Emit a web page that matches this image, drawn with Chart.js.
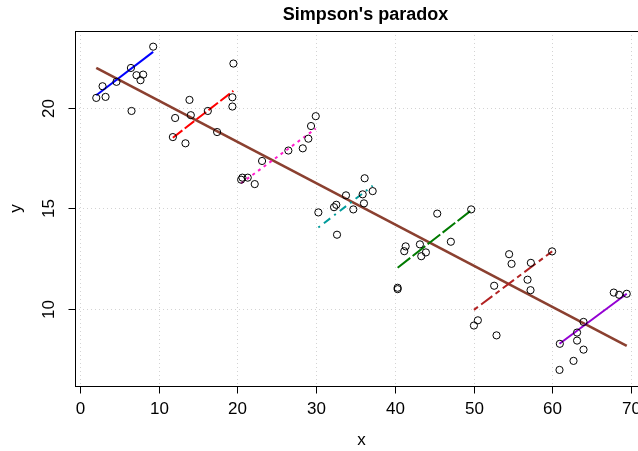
<!DOCTYPE html>
<html>
<head>
<meta charset="utf-8">
<script src="https://cdn.jsdelivr.net/npm/chart.js@4.4.1/dist/chart.umd.min.js"></script>
<style>
  html, body { margin: 0; padding: 0; background: #ffffff; overflow: hidden; }
  #wrap { width: 638px; height: 451px; overflow: hidden; position: relative; }
  canvas { display: block; }
</style>
</head>
<body>
<div id="wrap"><canvas id="c" width="680" height="451"></canvas></div>
<script>
// ---- data ----
const chartTitle = "Simpson's paradox";
const xLabel = "x";
const yLabel = "y";
const xTicks = [0, 10, 20, 30, 40, 50, 60, 70];
const yTicks = [10, 15, 20];

const blueX = [2.06, 2.86, 3.24, 4.63, 6.46, 6.54, 7.17, 7.68, 8.02, 9.29];
const blueY = [20.50, 21.08, 20.55, 21.30, 21.99, 19.85, 21.63, 21.38, 21.66, 23.05];
const redX = [11.79, 12.08, 13.39, 13.90, 14.07, 16.23, 17.41, 19.35, 19.35, 19.48];
const redY = [18.55, 19.50, 18.24, 20.40, 19.64, 19.85, 18.80, 20.53, 20.07, 22.21];
const magentaX = [20.46, 20.62, 21.30, 22.19, 23.12, 26.46, 28.29, 29.00, 29.34, 29.94];
const magentaY = [16.43, 16.53, 16.53, 16.21, 17.36, 17.88, 17.99, 18.47, 19.10, 19.59];
const tealX = [30.27, 32.26, 32.55, 32.64, 33.78, 34.71, 35.90, 36.06, 36.15, 37.17];
const tealY = [14.80, 15.06, 15.18, 13.69, 15.65, 14.95, 15.70, 15.25, 16.50, 15.86];
const greenX = [40.34, 40.34, 41.18, 41.36, 43.17, 43.34, 43.93, 45.37, 47.10, 49.68];
const greenY = [11.05, 10.98, 12.87, 13.11, 13.21, 12.62, 12.81, 14.74, 13.34, 14.95];
const brickX = [50.03, 50.53, 52.60, 52.90, 54.50, 54.81, 56.84, 57.22, 57.26, 59.96];
const brickY = [9.17, 9.43, 11.15, 8.68, 12.72, 12.24, 11.45, 10.93, 12.29, 12.86];
const purpleX = [60.90, 60.94, 62.68, 63.13, 63.13, 63.95, 63.95, 67.79, 68.47, 69.44];
const purpleY = [6.96, 8.26, 7.41, 8.82, 8.42, 9.35, 7.97, 10.81, 10.70, 10.75];

// fitted line end points
const overallLineX = [2.06, 69.44];
const overallLineY = [21.99, 8.16];
const blueLineX = [2.06, 9.29];      const blueLineY = [20.63, 22.79];
const redLineX = [11.79, 19.48];     const redLineY = [18.52, 20.85];
const magentaLineX = [20.46, 29.94]; const magentaLineY = [16.25, 18.97];
const tealLineX = [30.27, 37.17];    const tealLineY = [14.05, 16.13];
const greenLineX = [40.34, 49.68];   const greenLineY = [12.05, 14.90];
const brickLineX = [50.03, 59.96];   const brickLineY = [9.95, 12.86];
const purpleLineX = [60.90, 69.44];  const purpleLineY = [8.26, 10.75];

// ---- build datasets ----
const zip = (xs, ys) => xs.map((x, i) => ({ x: x, y: ys[i] }));
const groups = [
  { px: blueX, py: blueY, lx: blueLineX, ly: blueLineY, color: '#0000ff', dash: [] },
  { px: redX, py: redY, lx: redLineX, ly: redLineY, color: '#ff0000', dash: [12, 3] },
  { px: magentaX, py: magentaY, lx: magentaLineX, ly: magentaLineY, color: '#ff1ccc', dash: [3, 4] },
  { px: tealX, py: tealY, lx: tealLineX, ly: tealLineY, color: '#009b9b', dash: [2, 5, 8, 5] },
  { px: greenX, py: greenY, lx: greenLineX, ly: greenLineY, color: '#007a00', dash: [16, 3] },
  { px: brickX, py: brickY, lx: brickLineX, ly: brickLineY, color: '#b22222', dash: [5, 4, 14, 4] },
  { px: purpleX, py: purpleY, lx: purpleLineX, ly: purpleLineY, color: '#9400d3', dash: [] }
];

const datasets = [];
groups.forEach(g => {
  datasets.push({
    type: 'scatter', data: zip(g.px, g.py), showLine: false,
    pointStyle: 'circle', pointRadius: 3.6, pointBorderWidth: 1,
    pointBorderColor: '#000000', pointBackgroundColor: 'rgba(0,0,0,0)',
    order: 0
  });
  datasets.push({
    type: 'line', data: zip(g.lx, g.ly), showLine: true, pointRadius: 0,
    borderColor: g.color, borderWidth: 2, borderDash: g.dash, fill: false,
    borderCapStyle: 'butt', order: 1
  });
});
datasets.push({
  type: 'line', data: zip(overallLineX, overallLineY), showLine: true, pointRadius: 0,
  borderColor: '#8b4030', borderWidth: 2.6, fill: false, order: 2
});

const FONT = '"Liberation Sans", Arial, Helvetica, sans-serif';

const rAxes = {
  id: 'rAxes',
  beforeDatasetsDraw(chart) {
    const { ctx, chartArea: a, scales: { x, y } } = chart;
    ctx.save();
    ctx.strokeStyle = '#d3d3d3';
    ctx.lineWidth = 1;
    ctx.setLineDash([1, 3]);
    xTicks.forEach(t => {
      const px = Math.round(x.getPixelForValue(t)) + 0.5;
      ctx.beginPath(); ctx.moveTo(px, a.top); ctx.lineTo(px, a.bottom); ctx.stroke();
    });
    yTicks.forEach(t => {
      const py = Math.round(y.getPixelForValue(t)) + 0.5;
      ctx.beginPath(); ctx.moveTo(a.left, py); ctx.lineTo(a.right, py); ctx.stroke();
    });
    ctx.restore();
  },
  afterDraw(chart) {
    const { ctx, chartArea: a, scales: { x, y } } = chart;
    ctx.save();
    ctx.setLineDash([]);
    ctx.strokeStyle = '#000000';
    ctx.lineWidth = 1;
    // box
    ctx.strokeRect(Math.round(a.left) + 0.5, Math.round(a.top) + 0.5,
                   Math.round(a.right - a.left), Math.round(a.bottom - a.top));
    // x axis ticks + labels
    ctx.fillStyle = '#000000';
    ctx.font = '17px ' + FONT;
    ctx.textAlign = 'center';
    ctx.textBaseline = 'middle';
    const by = Math.round(a.bottom) + 0.5;
    xTicks.forEach(t => {
      const px = Math.round(x.getPixelForValue(t)) + 0.5;
      ctx.beginPath(); ctx.moveTo(px, by); ctx.lineTo(px, by + 7); ctx.stroke();
      ctx.fillText(String(t), px, 409);
    });
    // y axis ticks + labels (rotated)
    const lx = Math.round(a.left) + 0.5;
    yTicks.forEach(t => {
      const py = Math.round(y.getPixelForValue(t)) + 0.5;
      ctx.beginPath(); ctx.moveTo(lx, py); ctx.lineTo(lx - 7, py); ctx.stroke();
      ctx.save();
      ctx.translate(49, py);
      ctx.rotate(-Math.PI / 2);
      ctx.fillText(String(t), 0, 0);
      ctx.restore();
    });
    // axis titles
    ctx.fillText(xLabel, (a.left + a.right) / 2, 440);
    ctx.save();
    ctx.translate(16, (a.top + a.bottom) / 2);
    ctx.rotate(-Math.PI / 2);
    ctx.fillText(yLabel, 0, 0);
    ctx.restore();
    // main title
    ctx.font = 'bold 18px ' + FONT;
    ctx.fillText(chartTitle, (a.left + a.right) / 2 + 4, 15);
    ctx.restore();
  }
};

new Chart(document.getElementById('c'), {
  type: 'scatter',
  data: { datasets: datasets },
  options: {
    responsive: false,
    animation: false,
    devicePixelRatio: 1,
    layout: { padding: { left: 75, top: 31, right: 32, bottom: 65 } },
    plugins: { legend: { display: false }, tooltip: { enabled: false }, title: { display: false } },
    scales: {
      x: { type: 'linear', min: -0.64, max: 72.14, display: false },
      y: { type: 'linear', min: 6.16, max: 23.83, display: false }
    }
  },
  plugins: [rAxes]
});
</script>
</body>
</html>
